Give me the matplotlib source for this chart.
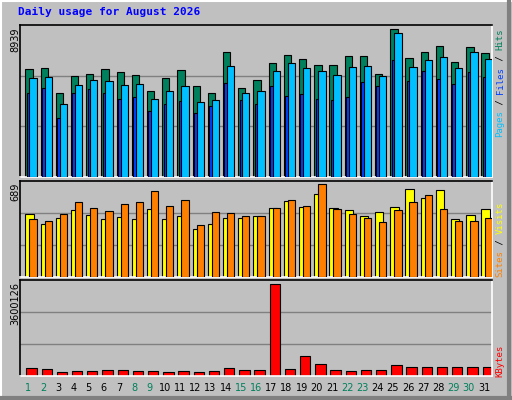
import matplotlib
matplotlib.use("Agg")
import matplotlib.pyplot as plt
from matplotlib.patches import Rectangle
import numpy as np

days = list(range(1, 32))
weekend_days = [1, 2, 8, 9, 15, 16, 22, 23, 29, 30]
hits = [6511, 6572, 5055, 6086, 6208, 6511, 6329, 6147, 5176, 5965, 6450, 5480, 5055, 7542, 5358, 5844,
        6875, 7360, 7118, 6753, 6753, 7299, 7299, 6208, 8939, 7178, 7542, 7906, 6935, 7845, 7481]
pages = [5965, 6026, 4388, 5540, 5844, 5783, 5540, 5601, 4691, 5176, 5480, 4509, 4630, 6693, 5055, 5176,
         6390, 6875, 6572, 6390, 6147, 6632, 6693, 6086, 8695, 6632, 7057, 7239, 6572, 7542, 7118]
files = [5055, 5358, 3599, 5055, 5298, 5055, 4691, 4812, 4024, 4388, 4570, 3902, 4327, 5662, 4630, 4448,
         5480, 4873, 4994, 4691, 4630, 4812, 5722, 5480, 7057, 5783, 6390, 5904, 5601, 6329, 6026]
visits = [465, 390, 435, 495, 458, 428, 443, 428, 502, 428, 450, 353, 390, 435, 435, 450,
          510, 562, 517, 614, 510, 495, 450, 480, 517, 652, 584, 644, 428, 458, 502]
sites = [428, 413, 465, 555, 510, 487, 540, 555, 637, 525, 570, 383, 480, 473, 450, 450,
         510, 570, 525, 689, 502, 465, 435, 405, 495, 555, 607, 502, 413, 413, 435]
kbytes = [289000, 250000, 131000, 171000, 171000, 210000, 210000, 171000, 171000, 131000, 171000,
          131000, 171000, 289000, 210000, 210000, 3600126, 250000, 762000, 447000, 210000, 171000,
          210000, 210000, 407000, 328000, 328000, 328000, 328000, 328000, 328000]

BG = "#C0C0C0"
C_HITS, C_PAGES, C_FILES = "#00805C", "#00C0FF", "#0040FF"
C_VIS, C_SITES, C_KB = "#FFFF00", "#FF8000", "#FF0000"

W, H = 512, 400
fig = plt.figure(figsize=(W / 100, H / 100), dpi=100, facecolor=BG)

def fx(px): return px / W
def fy(py): return 1 - py / H

fig.add_artist(plt.Line2D([fx(1), fx(1)], [fy(0), fy(399)], color="white", lw=1.5, transform=fig.transFigure))
fig.add_artist(plt.Line2D([fx(0), fx(511)], [fy(1), fy(1)], color="white", lw=1.5, transform=fig.transFigure))
fig.add_artist(plt.Line2D([fx(509), fx(509)], [fy(0), fy(400)], color="#808080", lw=3, transform=fig.transFigure))
fig.add_artist(plt.Line2D([fx(0), fx(512)], [fy(398), fy(398)], color="#808080", lw=3, transform=fig.transFigure))

left, right = 20.3, 491.7
panels = [(25, 177), (181, 276.7), (280.3, 375.7)]
x = np.array(days)

def make_ax(top, bot, ymax):
    ax = fig.add_axes([fx(left), fy(bot), fx(right - left), (bot - top) / H])
    ax.set_facecolor(BG)
    ax.set_xlim(0.5, 31.5)
    ax.set_ylim(0, ymax)
    ax.set_xticks([]); ax.set_yticks([])
    for s in ["top", "left"]:
        ax.spines[s].set_color("black"); ax.spines[s].set_linewidth(1.2)
    for s in ["bottom", "right"]:
        ax.spines[s].set_color("white"); ax.spines[s].set_linewidth(1.2)
    for f in (1 / 3, 2 / 3):
        ax.axhline(ymax * f, color="#808080", lw=1, zorder=0)
    return ax

ax1 = make_ax(*panels[0], 8939 * 152 / 147.7)
ax1.bar(x - 0.171, hits, width=0.48, align="edge", color=C_HITS, edgecolor="black", lw=0.8, zorder=2)
ax1.bar(x - 0.08, files, width=0.45, align="edge", color=C_FILES, edgecolor="black", lw=0.8, zorder=3)
ax1.bar(x + 0.092, pages, width=0.48, align="edge", color=C_PAGES, edgecolor="black", lw=0.8, zorder=4)

ax2 = make_ax(*panels[1], 689 * 95.7 / 92.3)
ax2.bar(x - 0.171, visits, width=0.55, align="edge", color=C_VIS, edgecolor="black", lw=0.8, zorder=2)
ax2.bar(x + 0.092, sites, width=0.48, align="edge", color=C_SITES, edgecolor="black", lw=0.8, zorder=3)

ax3 = make_ax(*panels[2], 3600126 * 95.4 / 91.3)
ax3.bar(x - 0.105, kbytes, width=0.68, align="edge", color=C_KB, edgecolor="black", lw=0.8, zorder=2)

fig.text(fx(18), fy(12), "Daily usage for August 2026", color="#0000FF", fontsize=8,
         fontweight="bold", family="DejaVu Sans Mono", va="center", ha="left")

for lab, top in [("8939", 27), ("689", 183), ("3600126", 282)]:
    fig.text(fx(15), fy(top), lab, rotation=90, fontsize=7, ha="center", va="top", color="black")

for d in days:
    cx = left + (d - 0.5) * (right - left) / 31
    fig.text(fx(cx), fy(388), str(d), fontsize=7, ha="center", va="center",
             color=C_HITS if d in weekend_days else "black")

CW = 5.43
def legend(parts, bottom):
    k = 0
    for txt, col in parts:
        fig.text(fx(500), fy(bottom - CW * k), txt, rotation=90, fontsize=6.5,
                 family="DejaVu Sans Mono", color=col, ha="center", va="bottom")
        k += len(txt)

legend([("Pages", C_PAGES), (" / ", "black"), ("Files", C_FILES), (" / ", "black"), ("Hits", C_HITS)], 137)
legend([("Sites", C_SITES), (" / ", "black"), ("Visits", C_VIS)], 277)
legend([("KBytes", C_KB)], 377)

fig.savefig("out.png", dpi=100, facecolor=BG)
